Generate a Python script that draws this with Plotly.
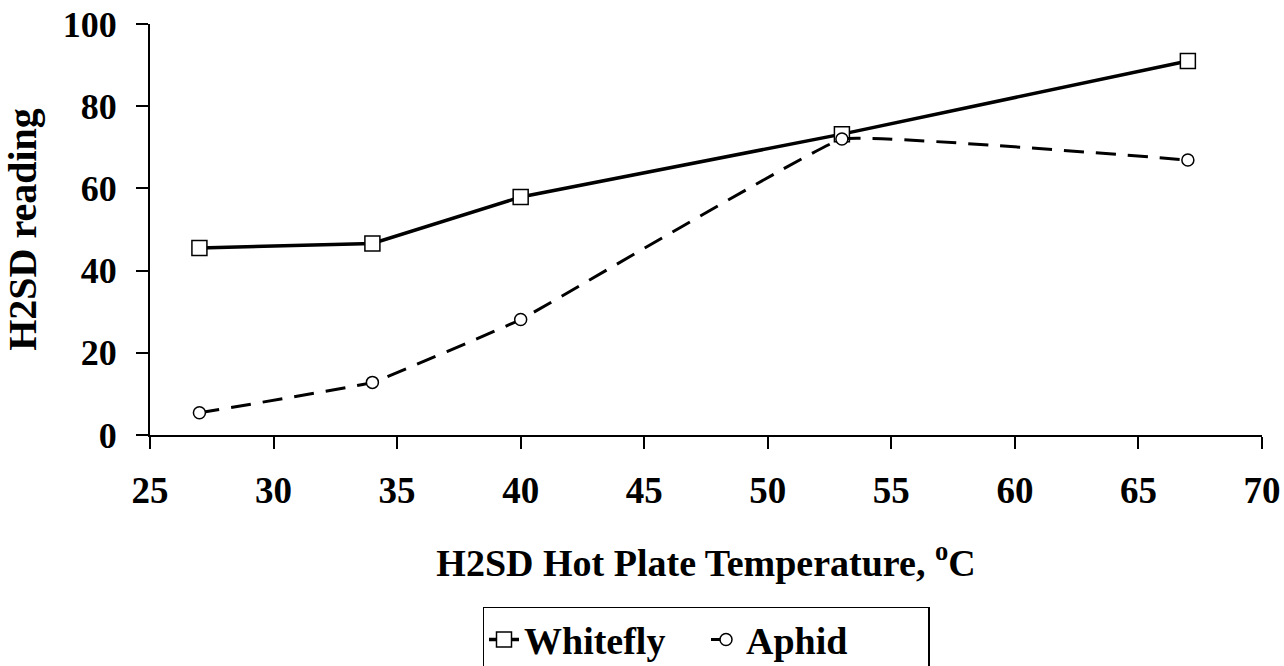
import plotly.graph_objects as go

temperature = [27, 34, 40, 53, 67]
whitefly = [45.5, 46.6, 57.9, 73.2, 91.0]
aphid = [5.4, 12.8, 28.1, 72.0, 66.9]

x_ticks = [25, 30, 35, 40, 45, 50, 55, 60, 65, 70]
y_ticks = [0, 20, 40, 60, 80, 100]

FONT = "Liberation Serif"

fig = go.Figure()
fig.add_trace(go.Scatter(
    x=temperature, y=whitefly, name="Whitefly", mode="lines+markers",
    line=dict(color="black", width=3.5),
    marker=dict(symbol="square", size=15, color="white", line=dict(color="black", width=1.5)),
))
fig.add_trace(go.Scatter(
    x=temperature, y=aphid, name="Aphid", mode="lines+markers",
    line=dict(color="black", width=3, dash="20px,12px", shape="spline", smoothing=0.2),
    marker=dict(symbol="circle", size=12, color="white", line=dict(color="black", width=1.5)),
))

fig.update_layout(
    width=1284, height=666,
    paper_bgcolor="white", plot_bgcolor="white",
    margin=dict(l=150, r=22, t=24, b=231, autoexpand=False),
    font=dict(family=FONT, color="black"),
    showlegend=True,
    legend=dict(
        orientation="h", x=0.5, xref="paper", xanchor="center",
        y=-0.418, yanchor="top",
        bordercolor="black", borderwidth=1.5,
        font=dict(family=FONT, size=38, color="black", weight="bold"),
        entrywidth=177, entrywidthmode="pixels",
    ),
    xaxis=dict(
        range=[25, 70], tickvals=x_ticks, ticktext=[str(v) for v in x_ticks],
        showgrid=False, zeroline=False, showline=True, linecolor="black", linewidth=2,
        ticks="outside", ticklen=12, tickwidth=2, tickcolor="black",
        ticklabelstandoff=10,
        automargin=False,
        tickfont=dict(family=FONT, size=37, color="black", weight="bold"),
        title=dict(text="H2SD Hot Plate Temperature, <sup>o</sup>C",
                   font=dict(family=FONT, size=38, color="black", weight="bold"),
                   standoff=39),
    ),
    yaxis=dict(
        range=[0, 100], tickvals=y_ticks, ticktext=[str(v) for v in y_ticks],
        showgrid=False, zeroline=False, showline=True, linecolor="black", linewidth=2,
        ticks="outside", ticklen=12, tickwidth=2, tickcolor="black",
        ticklabelstandoff=12,
        automargin=False,
        tickfont=dict(family=FONT, size=36, color="black", weight="bold"),
        title=dict(text="H2SD reading",
                   font=dict(family=FONT, size=40, color="black", weight="bold"),
                   standoff=28),
    ),
)

fig.write_html("out.html", config={"displayModeBar": False},
               post_script="document.body.style.margin='0px';")
